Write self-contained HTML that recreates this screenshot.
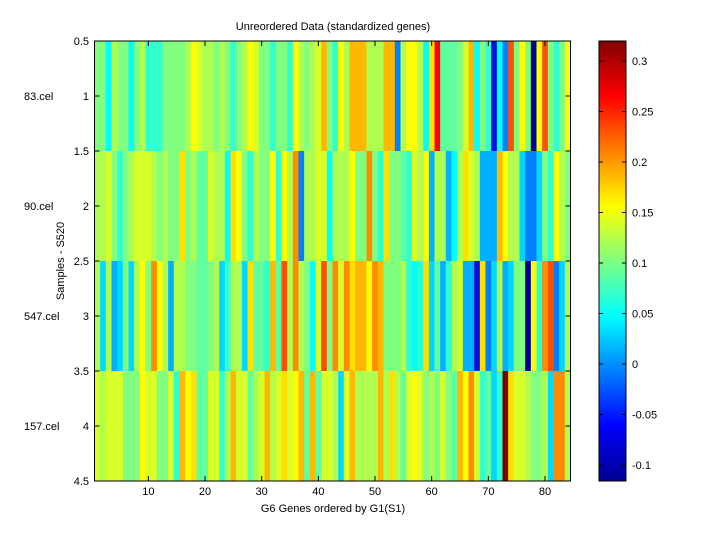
<!DOCTYPE html>
<html><head><meta charset="utf-8"><style>
html,body{margin:0;padding:0;background:#fff;width:720px;height:540px;overflow:hidden}
svg{display:block;font-family:"Liberation Sans",sans-serif;font-size:11px}
</style></head><body>
<svg id="s" width="720" height="540" xmlns="http://www.w3.org/2000/svg">
<defs><linearGradient id="jet" x1="0" y1="1" x2="0" y2="0">
<stop offset="0" stop-color="#00008f"/><stop offset="0.125" stop-color="#0000ff"/>
<stop offset="0.375" stop-color="#00ffff"/><stop offset="0.625" stop-color="#ffff00"/>
<stop offset="0.875" stop-color="#ff0000"/><stop offset="1" stop-color="#800000"/></linearGradient></defs>
<rect width="720" height="540" fill="#fff"/>
<g id="hm"></g>
<rect x="94.5" y="41" width="476" height="440" fill="none" stroke="#000" stroke-width="1"/>
<rect x="599" y="41" width="27" height="440" fill="url(#jet)" stroke="#000" stroke-width="1"/>
<g id="ax" fill="#000"></g>
<text x="333" y="30" text-anchor="middle">Unreordered Data (standardized genes)</text>
<text x="333" y="512" text-anchor="middle">G6 Genes ordered by G1(S1)</text>
<text transform="translate(64,261) rotate(-90)" text-anchor="middle">Samples - S520</text>
<text x="24" y="100">83.cel</text><text x="24" y="210">90.cel</text>
<text x="24" y="320">547.cel</text><text x="24" y="430">157.cel</text>
</svg>
<script>
var P={g:"#80ff80",G:"#60ffa0",t:"#30ffd0",c:"#00ffff",C:"#00d8ff",s:"#00b0ff",b:"#0080ff",B:"#0010e0",n:"#000090",l:"#b0ff50",k:"#d8ff28",y:"#ffff00",Y:"#ffe000",o:"#ffb800",O:"#ff8c00",r:"#ff5000",R:"#ff0000",D:"#800000"};
var rows=["ggclggcgltttgggglykllglgtglykggtggtylglkogtylooolllooblyylcYRGGGgkocgtBcbrgygnyrgtgyo",
"llkgtglkkklglggYglGGkllcYygtlggytylObllkkclllyggOgtYggGtklysllsclYklsssoyllCbbCgtyl",
"lClsCgClygOylsllggGGglCtllCYGGtoGrlOlgckrgOkOYooyOogggltctYCGstlkssBYbClsCggnytOrbCl",
"klkkkgggykkggktoyYGGkktlokkGlkolkYkyoGoGkklCkolllloIYlGkykglgkgGoyOktGCtDYkklgglCOOl"];
var hm=document.getElementById("hm"),ns="http://www.w3.org/2000/svg",w=476/84;
rows.forEach(function(r,i){r=r.replace("I","l");for(var j=0;j<84;j++){var e=document.createElementNS(ns,"rect");
e.setAttribute("x",94.5+j*w);e.setAttribute("y",41+i*110);e.setAttribute("width",w+0.4);e.setAttribute("height",110);
e.setAttribute("fill",P[r[j]]||"#80ff80");hm.appendChild(e);}});
var ax=document.getElementById("ax"),h="";
for(var v=10;v<=80;v+=10){var x=94.5+(v-0.5)*w;h+='<line x1="'+x+'" y1="481" x2="'+x+'" y2="476" stroke="#000"/><line x1="'+x+'" y1="41" x2="'+x+'" y2="46" stroke="#000"/><text x="'+x+'" y="495" text-anchor="middle">'+v+'</text>';}
var yl=["0.5","1","1.5","2","2.5","3","3.5","4","4.5"];
for(var i=0;i<9;i++){var y=41+i*55;h+='<line x1="94.5" y1="'+y+'" x2="99.5" y2="'+y+'" stroke="#000"/><line x1="570.5" y1="'+y+'" x2="565.5" y2="'+y+'" stroke="#000"/><text x="89" y="'+(y+4)+'" text-anchor="end">'+yl[i]+'</text>';}
var cl=["0.3","0.25","0.2","0.15","0.1","0.05","0","-0.05","-0.1"];
for(var i=0;i<9;i++){var y=61+i*50.5;h+='<line x1="599" y1="'+y+'" x2="603" y2="'+y+'" stroke="#000"/><line x1="626" y1="'+y+'" x2="622" y2="'+y+'" stroke="#000"/><text x="632" y="'+(y+4)+'">'+cl[i]+'</text>';}
ax.innerHTML=h;
</script>
</body></html>
